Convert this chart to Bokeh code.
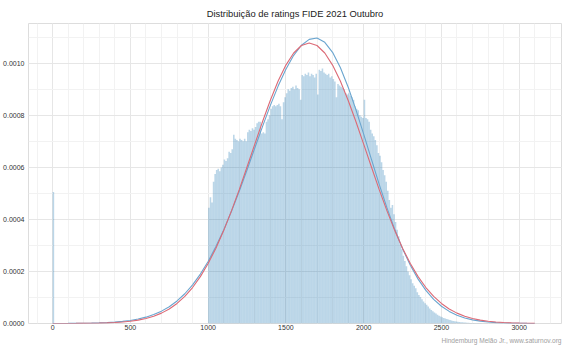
from bokeh.plotting import figure
from bokeh.models import Range1d, SingleIntervalTicker, Title, ColumnDataSource, CustomJSTickFormatter
from bokeh.embed import file_html
from bokeh.resources import INLINE

# ---------------- data ----------------
title_text = "Distribuição de ratings FIDE 2021 Outubro"
credit_text = "Hindemburg Melão Jr., www.saturnov.org"

# histogram: bin left edges (width 10 rating points) and densities (x 1e-4)
bin_width = 10
bin_left = [0] + list(range(1000, 2850, 10))
density_e4 = [5.05,
    4.45, 4.85, 4.65, 5.45, 5.75, 5.90, 5.95, 5.85, 6.00, 6.10,
    6.30, 6.25, 6.35, 6.60, 6.55, 6.70, 7.25, 7.10, 7.05, 7.00,
    7.10, 7.05, 7.00, 7.10, 7.00, 7.35, 7.45, 7.40, 7.50, 7.45,
    7.55, 7.70, 7.75, 7.75, 7.30, 7.35, 7.30, 7.75, 7.85, 8.00,
    8.25, 8.35, 8.40, 8.35, 8.40, 8.45, 8.35, 7.85, 8.50, 8.70,
    8.85, 9.00, 8.95, 9.05, 9.10, 9.00, 9.15, 9.05, 9.00, 8.60,
    9.55, 9.50, 9.60, 9.55, 9.65, 9.50, 9.60, 9.55, 9.45, 9.60,
    8.80, 9.75, 9.70, 9.80, 9.65, 9.60, 9.55, 9.60, 9.45, 9.50,
    9.40, 9.30, 8.70, 9.20, 9.15, 9.10, 9.05, 9.00, 8.85, 8.80,
    8.85, 8.75, 8.70, 8.60, 8.35, 8.25, 8.20, 8.00, 7.95, 7.90,
    8.60, 7.90, 7.85, 7.75, 7.45, 7.30, 7.20, 7.05, 6.85, 6.55,
    6.45, 6.20, 5.90, 5.70, 5.45, 5.10, 4.75, 4.45, 4.55, 4.20,
    3.90, 3.60, 3.35, 3.05, 2.85, 2.60, 2.40, 2.20, 2.00, 1.85,
    1.70, 1.55, 1.45, 1.35, 1.20, 1.10, 1.02, 0.93, 0.85, 0.78,
    0.72, 0.65, 0.58, 0.52, 0.47, 0.42, 0.38, 0.34, 0.30, 0.27,
    0.24, 0.21, 0.19, 0.17, 0.15, 0.13, 0.115, 0.10, 0.09, 0.08,
    0.07, 0.06, 0.05, 0.045, 0.04, 0.035, 0.03, 0.025, 0.02, 0.018,
    0.015, 0.012, 0.010, 0.008, 0.007, 0.005, 0.004, 0.003, 0.002, 0.002,
    0.001, 0.001, 0.001, 0.0005, 0.0005]

# fitted curves, sampled every 50 rating points (x 1e-4)
curve_x = list(range(0, 3101, 50))
blue_curve_e4 = [0.0012, 0.0020, 0.0033, 0.0055, 0.0089, 0.0143, 0.0224, 0.0348, 0.053, 0.080,
    0.117, 0.170, 0.244, 0.343, 0.475, 0.646, 0.867, 1.143, 1.485, 1.900,
    2.386, 2.956, 3.595, 4.311, 5.081, 5.901, 6.743, 7.576, 8.383, 9.124,
    9.775, 10.308, 10.693, 10.919,
    10.970, 10.807, 10.422, 9.837, 9.089, 8.221, 7.278, 6.307, 5.350, 4.442,
    3.610, 2.872, 2.237, 1.705, 1.272, 0.929, 0.664, 0.465, 0.318, 0.213,
    0.140, 0.0901, 0.0567, 0.0349, 0.0210, 0.0124, 0.0072, 0.0040, 0.0022]
red_curve_e4 = [0.0005, 0.0009, 0.0017, 0.0029, 0.0050, 0.0084, 0.0139, 0.0225, 0.0358, 0.056,
    0.086, 0.130, 0.192, 0.280, 0.399, 0.559, 0.770, 1.042, 1.382, 1.801,
    2.304, 2.895, 3.571, 4.327, 5.145, 6.013, 6.894, 7.763, 8.582, 9.318,
    9.932, 10.396, 10.685, 10.783,
    10.685, 10.396, 9.932, 9.318, 8.582, 7.763, 6.894, 6.013, 5.145, 4.327,
    3.571, 2.895, 2.304, 1.801, 1.382, 1.042, 0.770, 0.559, 0.399, 0.280,
    0.192, 0.130, 0.086, 0.056, 0.0358, 0.0225, 0.0139, 0.0084, 0.0050]

# ---------------- figure ----------------
FONT = "Liberation Sans"
p = figure(width=567, height=351, output_backend="svg", toolbar_location=None,
           x_range=Range1d(-155, 3272), y_range=Range1d(0, 0.001153),
           min_border_left=27, min_border_right=6, min_border_top=0, min_border_bottom=28)
p.background_fill_color = "white"
p.border_fill_color = "white"
p.outline_line_color = "#dddddd"
p.outline_line_width = 1

p.title.text = title_text
p.title.align = "center"
p.title.text_font = FONT
p.title.text_font_size = "9.4px"
p.title.text_font_style = "normal"
p.title.text_color = "#222222"
p.title.standoff = 10

hist = ColumnDataSource(dict(
    left=bin_left,
    right=[b + bin_width for b in bin_left],
    top=[d * 1e-4 for d in density_e4],
))
p.quad(left="left", right="right", top="top", bottom=0, source=hist,
       fill_color="#1f77b4", fill_alpha=0.3, line_color=None)

p.line(curve_x, [v * 1e-4 for v in blue_curve_e4], line_color="#6aa5cf", line_width=1.1)
p.line(curve_x, [v * 1e-4 for v in red_curve_e4], line_color="#dc6a76", line_width=1.1)

p.xaxis.ticker = SingleIntervalTicker(interval=500, num_minor_ticks=5)
p.yaxis.ticker = SingleIntervalTicker(interval=0.0002, num_minor_ticks=2)
p.yaxis.formatter = CustomJSTickFormatter(code="return tick.toFixed(4);")

for ax in (p.xaxis[0], p.yaxis[0]):
    ax.axis_line_color = None
    ax.major_tick_line_color = None
    ax.minor_tick_line_color = None
    ax.major_tick_out = 0
    ax.major_tick_in = 0
    ax.minor_tick_out = 0
    ax.minor_tick_in = 0
    ax.major_label_text_font = FONT
    ax.major_label_text_font_size = "7px"
    ax.major_label_text_color = "#333333"
p.xaxis.major_label_standoff = 1
p.yaxis.major_label_standoff = 4

p.xgrid.grid_line_color = "#e6e6e6"
p.ygrid.grid_line_color = "#e6e6e6"
p.xgrid.minor_grid_line_color = "#f2f2f2"
p.ygrid.minor_grid_line_color = "#f2f2f2"

credit = Title(text=credit_text, align="right", text_font=FONT, text_font_size="6.6px",
               text_font_style="normal", text_color="#a0a0a0", standoff=5)
p.add_layout(credit, "below")

open("out.html", "w").write(file_html(p, INLINE))
